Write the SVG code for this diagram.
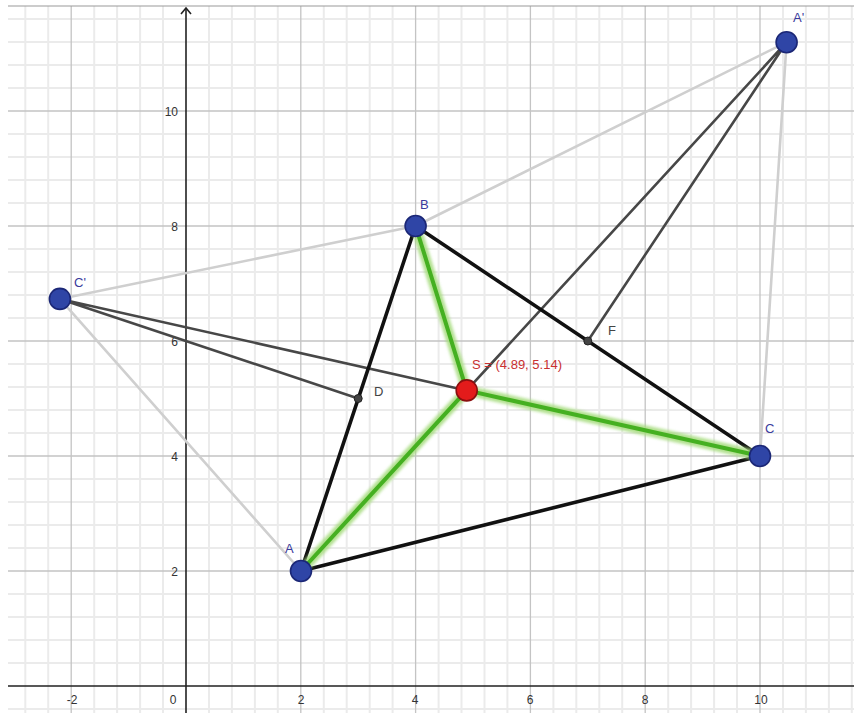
<svg xmlns="http://www.w3.org/2000/svg" width="854" height="713" viewBox="0 0 854 713">
<style>
.minor{stroke:#ebebeb;stroke-width:2;fill:none}
.major{stroke:#c4c4c4;stroke-width:1.3;fill:none}
.axis{stroke:#222;stroke-width:1.6;fill:none}
.tick{font-family:"Liberation Sans",Arial,sans-serif;font-size:12px;fill:#333}
.light{stroke:#cfcfcf;stroke-width:2.6;fill:none;stroke-linecap:round}
.dark{stroke:#474747;stroke-width:2.6;fill:none;stroke-linecap:round}
.tri{stroke:#111;stroke-width:3.6;fill:none;stroke-linecap:round}
.glow{stroke:#a4db7c;stroke-width:10;fill:none;stroke-linecap:round;opacity:0.85}
.core{stroke:#45b021;stroke-width:4;fill:none;stroke-linecap:round}
.pt{fill:#2f45a6;stroke:#1b2776;stroke-width:1.6}
.red{fill:#e31b1b;stroke:#8a0f0f;stroke-width:1.6}
.small{fill:#444;stroke:#222;stroke-width:1}
.lbl{font-family:"Liberation Sans",Arial,sans-serif;font-size:13px;fill:#3a3a9c}
.lbl2{font-family:"Liberation Sans",Arial,sans-serif;font-size:13px;fill:#444}
.lbls{font-family:"Liberation Sans",Arial,sans-serif;font-size:13px;fill:#c83030}
</style>
<defs>
<filter id="blur" x="-10%" y="-10%" width="120%" height="120%"><feGaussianBlur stdDeviation="1.5"/></filter>
</defs>
<rect width="854" height="713" fill="#fff"/>
<g id="grid">
<path class="minor" d="M25.3 6V713M48.2 6V713M94.2 6V713M117.1 6V713M140.1 6V713M163 6V713M209 6V713M231.9 6V713M254.9 6V713M277.8 6V713M323.8 6V713M346.7 6V713M369.7 6V713M392.6 6V713M438.6 6V713M461.5 6V713M484.5 6V713M507.4 6V713M553.4 6V713M576.3 6V713M599.3 6V713M622.2 6V713M668.2 6V713M691.1 6V713M714.1 6V713M737 6V713M783 6V713M805.9 6V713M828.9 6V713M851.8 6V713"/>
<path class="minor" d="M8 709H854M8 663H854M8 640H854M8 617H854M8 594H854M8 548H854M8 525H854M8 502H854M8 479H854M8 433H854M8 410H854M8 387H854M8 364H854M8 318H854M8 295H854M8 272H854M8 249H854M8 203H854M8 180H854M8 157H854M8 134H854M8 88H854M8 65H854M8 42H854M8 19H854"/>
<path class="major" d="M71.2 6V713M300.8 6V713M415.6 6V713M530.4 6V713M645.2 6V713M760 6V713M8 571H854M8 456H854M8 341H854M8 226H854M8 111H854"/>
<path d="M8 6H854" stroke="#9a9a9a" stroke-width="1.2"/>
</g>
<g id="axes">
<path class="axis" d="M186 713V8M8 686H854"/>
<path class="axis" d="M181 14L186 8L191 14" stroke-linejoin="miter"/>
<g class="tick">
<text x="72" y="704" text-anchor="middle">-2</text>
<text x="173" y="704" text-anchor="middle">0</text>
<text x="301" y="704" text-anchor="middle">2</text>
<text x="415" y="704" text-anchor="middle">4</text>
<text x="530" y="704" text-anchor="middle">6</text>
<text x="645" y="704" text-anchor="middle">8</text>
<text x="761" y="704" text-anchor="middle">10</text>
<text x="178" y="576" text-anchor="end">2</text>
<text x="178" y="461" text-anchor="end">4</text>
<text x="178" y="346" text-anchor="end">6</text>
<text x="178" y="231" text-anchor="end">8</text>
<text x="178" y="116" text-anchor="end">10</text>
</g>
</g>
<g id="connectors">
<path class="light" d="M59.9 298.9L301 571M59.9 298.9L415.6 226M415.6 226L786.6 42.2M786.6 42.2L760 456"/>
<path class="dark" d="M59.9 298.9L358.2 398.5M59.9 298.9L466.7 390.4M786.6 42.2L587.8 341M786.6 42.2L466.7 390.4"/>
<path class="tri" d="M301 571L415.6 226L760 456Z" stroke-linejoin="round"/>
<path class="glow" filter="url(#blur)" d="M466.7 390.4L301 571M466.7 390.4L415.6 226M466.7 390.4L760 456"/>
<path class="core" d="M466.7 390.4L301 571M466.7 390.4L415.6 226M466.7 390.4L760 456"/>
</g>
<g id="D"><circle class="small" cx="358.2" cy="398.5" r="4"/><text class="lbl2" x="374" y="396">D</text></g>
<g id="F"><circle class="small" cx="587.8" cy="341" r="4"/><text class="lbl2" x="608" y="335">F</text></g>
<g id="A"><circle class="pt" cx="301" cy="571" r="10.5"/><text class="lbl" x="285" y="553">A</text></g>
<g id="B"><circle class="pt" cx="415.6" cy="226" r="10.5"/><text class="lbl" x="420" y="209">B</text></g>
<g id="C"><circle class="pt" cx="760" cy="456" r="10.5"/><text class="lbl" x="765" y="433">C</text></g>
<g id="A_prime"><circle class="pt" cx="786.6" cy="42.2" r="10.5"/><text class="lbl" x="793" y="22">A'</text></g>
<g id="C_prime"><circle class="pt" cx="59.9" cy="298.9" r="10.5"/><text class="lbl" x="74" y="287">C'</text></g>
<g id="S"><circle class="red" cx="466.7" cy="390.4" r="10.5"/><text class="lbls" x="472" y="369">S = (4.89, 5.14)</text></g>
</svg>
